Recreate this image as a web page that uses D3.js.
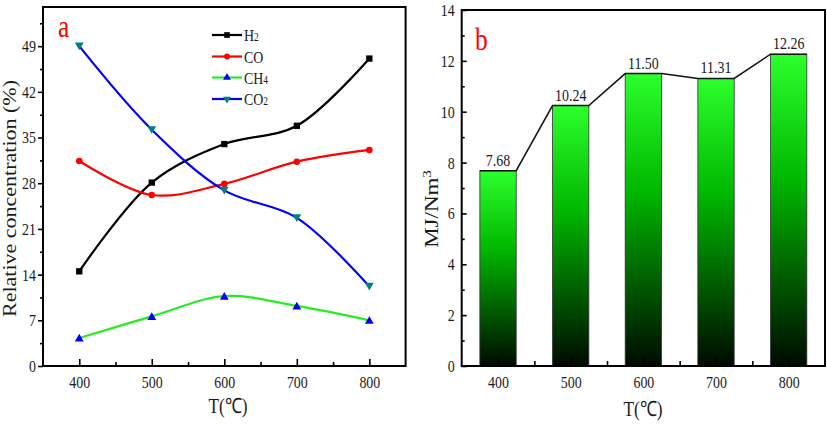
<!DOCTYPE html>
<html><head><meta charset="utf-8">
<script src="https://cdn.jsdelivr.net/npm/d3@7"></script>
<style>
body{margin:0;background:#fff}
svg{display:block}
text{font-family:"Liberation Serif","Times New Roman",serif;fill:#1a1a1a}
</style>
</head><body>
<svg id="c" width="827" height="426"></svg>
<script>
// ---------- data ----------
const temps = [400, 500, 600, 700, 800];
const xTicks = [400, 500, 600, 700, 800];
const xMinorTicks = [450, 550, 650, 750];
const h2 = [14.5, 28.1, 34.0, 36.8, 47.1];
const co = [31.4, 26.2, 27.9, 31.3, 33.1];
const ch4 = [4.3, 7.6, 10.7, 9.2, 7.0];
const co2 = [49.0, 36.2, 26.9, 22.7, 12.2];
const leftYTicks = [0, 7, 14, 21, 28, 35, 42, 49];
const leftYMinor = [3.5, 10.5, 17.5, 24.5, 31.5, 38.5, 45.5, 52.5];
const heatingValue = [7.68, 10.24, 11.50, 11.31, 12.26];
const heatingLabels = ["7.68", "10.24", "11.50", "11.31", "12.26"];
const rightYTicks = [0, 2, 4, 6, 8, 10, 12, 14];
const rightYMinor = [1, 3, 5, 7, 9, 11, 13];
const legendNames = [["H", "2"], ["CO", ""], ["CH", "4"], ["CO", "2"]];

const SX = 0.82; // horizontal squeeze of the original picture's text
const svg = d3.select("#c");

function sText(parent, x, y, str, size, anchor, color) {
  return parent.append("text")
    .attr("transform", `translate(${x},${y}) scale(${SX},1)`)
    .attr("text-anchor", anchor || "start")
    .style("font-size", size + "px")
    .style("fill", color || "#1a1a1a")
    .text(str);
}
function squeezeAxisText(g, size) {
  g.attr("font-family", null);
  g.selectAll("text").each(function () {
    const t = d3.select(this);
    const x = +t.attr("x") || 0;
    t.attr("x", x / SX).attr("transform", `scale(${SX},1)`)
     .style("font-size", size + "px").style("font-family", '"Liberation Serif",serif')
     .style("fill", "#1a1a1a");
  });
  g.select(".domain").remove();
  g.selectAll("line").attr("stroke", "#000").attr("stroke-width", 1.6);
}

// ================= Panel a =================
const xL = d3.scaleLinear().domain([350, 850]).range([43, 405.6]);
const yL = d3.scaleLinear().domain([0, 55]).range([366, 7]);
const pa = svg.append("g");

// axes
const axY = pa.append("g").attr("transform", `translate(${xL(350)},0)`)
  .call(d3.axisLeft(yL).tickValues(leftYTicks).tickSizeInner(5).tickSizeOuter(0).tickPadding(2));
squeezeAxisText(axY, 17);
const axYm = pa.append("g").attr("transform", `translate(${xL(350)},0)`)
  .call(d3.axisLeft(yL).tickValues(leftYMinor).tickSizeInner(3).tickSizeOuter(0).tickFormat(""));
squeezeAxisText(axYm, 17);
const axX = pa.append("g").attr("transform", `translate(0,${yL(0)})`)
  .call(d3.axisBottom(xL).tickValues(xTicks).tickSizeInner(-7).tickSizeOuter(0).tickPadding(10));
squeezeAxisText(axX, 17);
const axXm = pa.append("g").attr("transform", `translate(0,${yL(0)})`)
  .call(d3.axisBottom(xL).tickValues(xMinorTicks).tickSizeInner(-4).tickSizeOuter(0).tickFormat(""));
squeezeAxisText(axXm, 17);

pa.append("rect").attr("x", xL(350)).attr("y", yL(55))
  .attr("width", xL(850) - xL(350)).attr("height", yL(0) - yL(55))
  .attr("fill", "none").attr("stroke", "#000").attr("stroke-width", 2);

// series
const series = [
  { vals: h2, line: "#000000", mark: "#000000", sym: d3.symbolSquare, size: 40, rot: 0 },
  { vals: co, line: "#ff0000", mark: "#ff0000", sym: d3.symbolCircle, size: 34, rot: 0 },
  { vals: ch4, line: "#22ee22", mark: "#0000ff", sym: d3.symbolTriangle, size: 34, rot: 0 },
  { vals: co2, line: "#0000ff", mark: "#008080", sym: d3.symbolTriangle, size: 34, rot: 180 }
];
const lineGen = d3.line().x((d, i) => xL(temps[i])).y(d => yL(d)).curve(d3.curveCatmullRom.alpha(0.5));
series.forEach(s => {
  pa.append("path").attr("d", lineGen(s.vals)).attr("fill", "none")
    .attr("stroke", s.line).attr("stroke-width", 2.2);
});
series.forEach(s => {
  pa.selectAll(null).data(s.vals).enter().append("path")
    .attr("d", d3.symbol().type(s.sym).size(s.size))
    .attr("transform", (d, i) => `translate(${xL(temps[i])},${yL(d) + (s.sym === d3.symbolTriangle ? (s.rot ? -1 : 1) : 0)}) rotate(${s.rot})`)
    .attr("fill", s.mark);
});

// legend
const lg = pa.append("g");
const legY = [35, 56.5, 77.5, 99];
series.forEach((s, i) => {
  lg.append("line").attr("x1", 212).attr("x2", 242).attr("y1", legY[i]).attr("y2", legY[i])
    .attr("stroke", s.line).attr("stroke-width", 2.2);
  lg.append("path").attr("d", d3.symbol().type(s.sym).size(s.size * 0.8))
    .attr("transform", `translate(227,${legY[i]}) rotate(${s.rot})`).attr("fill", s.mark);
  const t = sText(lg, 244, legY[i] + 6, "", 17);
  t.append("tspan").text(legendNames[i][0]);
  if (legendNames[i][1]) t.append("tspan").style("font-size", "11.5px").text(legendNames[i][1]);
});

sText(pa, 58, 36.5, "a", 31, "start", "#ff0000");

// axis title
pa.append("text").attr("transform", `translate(16,198.5) rotate(-90) scale(1,${SX})`)
  .attr("text-anchor", "middle").style("font-size", "22px").text("Relative concentration (%)");
sText(pa, 228, 413, "T(℃)", 21, "middle");

// ================= Panel b =================
const xR = d3.scaleLinear().domain([350, 850]).range([461.7, 825]);
const yR = d3.scaleLinear().domain([0, 14]).range([366, 10]);
const pb = svg.append("g");

const defs = svg.append("defs");
const grad = defs.append("linearGradient").attr("id", "barGrad")
  .attr("x1", 0).attr("y1", 0).attr("x2", 0).attr("y2", 1);
grad.append("stop").attr("offset", "0%").attr("stop-color", "#2cff2c");
grad.append("stop").attr("offset", "40%").attr("stop-color", "#00b800");
grad.append("stop").attr("offset", "100%").attr("stop-color", "#000a00");

const bw = xR(425) - xR(375);
pb.selectAll(".bar").data(heatingValue).enter().append("rect")
  .attr("x", (d, i) => xR(temps[i]) - bw / 2)
  .attr("y", d => yR(d))
  .attr("width", bw)
  .attr("height", d => yR(0) - yR(d))
  .attr("fill", "url(#barGrad)")
  .attr("stroke", "#333").attr("stroke-width", 0.8);

const connPts = [];
heatingValue.forEach((v, i) => { connPts.push([temps[i] - 25, v]); connPts.push([temps[i] + 25, v]); });
pb.append("path").attr("d", d3.line().x(d => xR(d[0])).y(d => yR(d[1]))(connPts))
  .attr("fill", "none").attr("stroke", "#111").attr("stroke-width", 1.5);

heatingValue.forEach((v, i) => {
  sText(pb, xR(temps[i]), yR(v) - 5, heatingLabels[i], 17, "middle");
});

const bY = pb.append("g").attr("transform", `translate(${xR(350)},0)`)
  .call(d3.axisLeft(yR).tickValues(rightYTicks).tickSizeInner(-5).tickSizeOuter(0).tickPadding(7));
squeezeAxisText(bY, 17);
const bYm = pb.append("g").attr("transform", `translate(${xR(350)},0)`)
  .call(d3.axisLeft(yR).tickValues(rightYMinor).tickSizeInner(-3).tickSizeOuter(0).tickFormat(""));
squeezeAxisText(bYm, 17);
const bX = pb.append("g").attr("transform", `translate(0,${yR(0)})`)
  .call(d3.axisBottom(xR).tickValues(xTicks).tickSizeInner(-8).tickSizeOuter(0).tickPadding(10));
squeezeAxisText(bX, 17);
const bXm = pb.append("g").attr("transform", `translate(0,${yR(0)})`)
  .call(d3.axisBottom(xR).tickValues(xMinorTicks).tickSizeInner(-5).tickSizeOuter(0).tickFormat(""));
squeezeAxisText(bXm, 17);

pb.append("rect").attr("x", xR(350)).attr("y", yR(14))
  .attr("width", xR(850) - xR(350)).attr("height", yR(0) - yR(14))
  .attr("fill", "none").attr("stroke", "#000").attr("stroke-width", 2);

sText(pb, 475, 50, "b", 31, "start", "#ff0000");

const rl = pb.append("text").attr("transform", `translate(438,209) rotate(-90) scale(1,${SX})`)
  .attr("text-anchor", "middle").style("font-size", "23px");
rl.append("tspan").text("MJ/Nm");
rl.append("tspan").attr("dy", -9).style("font-size", "15px").text("3");
sText(pb, 643, 416, "T(℃)", 21, "middle");
</script>
</body></html>
